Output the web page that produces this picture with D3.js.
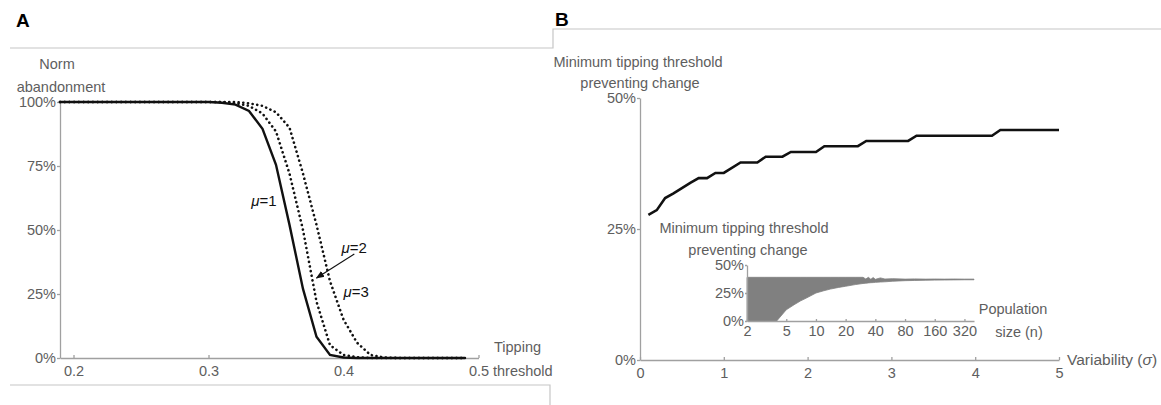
<!DOCTYPE html>
<html>

<head>
    <meta charset="utf-8">
    <script src="https://cdn.jsdelivr.net/npm/d3@7"></script>
    <title>Tipping threshold</title>

    <style>
        body {
            margin: 0;
            background-color: #fff;
        }

        svg text {
            font-family: "Liberation Sans", Arial, sans-serif;
        }

        .axis path,
        .axis line {
            stroke: #a0a0a0;
            stroke-width: 1.3;
        }

        .axis text {
            fill: #5e5e5e;
            font-size: 14.5px;
        }

        .lbl {
            fill: #5e5e5e;
            font-size: 14.5px;
        }
    </style>
</head>

<body>
<svg width="1161" height="405"></svg>

<script>
    // ---- panel A : norm abandonment vs tipping threshold
    const thresholds = [0.19, 0.20, 0.21, 0.22, 0.23, 0.24, 0.25, 0.26, 0.27, 0.28, 0.29, 0.30, 0.31, 0.32, 0.33,
        0.34, 0.35, 0.36, 0.37, 0.38, 0.39, 0.40, 0.41, 0.42, 0.43, 0.44, 0.45, 0.46, 0.47, 0.48, 0.49];
    const mu1 = [1, 1, 1, 1, 1, 1, 1, 1, 1, 1, 1, 1, 0.997, 0.99, 0.965,
        0.895, 0.755, 0.52, 0.27, 0.083, 0.012, 0.002, 0, 0, 0, 0, 0, 0, 0, 0, 0];
    const mu2 = [1, 1, 1, 1, 1, 1, 1, 1, 1, 1, 1, 1, 1, 0.995, 0.985,
        0.955, 0.885, 0.72, 0.5, 0.22, 0.05, 0.012, 0.003, 0, 0, 0, 0, 0, 0, 0, 0];
    const mu3 = [1, 1, 1, 1, 1, 1, 1, 1, 1, 1, 1, 1, 1, 1, 0.995,
        0.985, 0.96, 0.9, 0.72, 0.52, 0.3, 0.15, 0.06, 0.012, 0.002, 0, 0, 0, 0, 0, 0];
    const xTicksA = [0.2, 0.3, 0.4, 0.5];
    const yTicksA = [0, 0.25, 0.5, 0.75, 1];

    // ---- panel B : minimum threshold vs variability
    const sigma = [0.1, 0.2, 0.3, 0.4, 0.5, 0.6, 0.7, 0.8, 0.9, 1.0, 1.2, 1.4, 1.5, 1.7, 1.8, 2.1, 2.2, 2.6, 2.7,
        3.2, 3.3, 4.2, 4.3, 5.0];
    const minThreshold = [0.277, 0.286, 0.309, 0.318, 0.328, 0.338, 0.347, 0.347, 0.357, 0.357, 0.377, 0.377,
        0.388, 0.388, 0.397, 0.397, 0.408, 0.408, 0.418, 0.418, 0.428, 0.428, 0.439, 0.439];
    const xTicksB = [0, 1, 2, 3, 4, 5];
    const yTicksB = [0, 0.25, 0.5];

    // inset : range of minimum threshold vs population size
    const popSize = [2, 3, 4, 5, 6, 7, 8, 10, 12, 14, 17, 20, 25, 30, 32, 34, 36, 38, 40, 45, 50, 60, 80, 100,
        130, 160, 200, 250, 320, 400];
    const insetLow = [0, 0, 0, 0.1, 0.145, 0.18, 0.205, 0.25, 0.27, 0.285, 0.3, 0.31, 0.325, 0.335, 0.337, 0.34,
        0.342, 0.343, 0.345, 0.348, 0.35, 0.355, 0.36, 0.362, 0.364, 0.365, 0.366, 0.367, 0.368, 0.368];
    const insetHigh = [0.39, 0.39, 0.39, 0.39, 0.39, 0.39, 0.39, 0.39, 0.39, 0.39, 0.39, 0.39, 0.39, 0.39, 0.375,
        0.39, 0.372, 0.388, 0.372, 0.385, 0.375, 0.378, 0.374, 0.376, 0.374, 0.375, 0.374, 0.375, 0.374, 0.374];
    const xTicksInset = [2, 5, 10, 20, 40, 80, 160, 320];
    const yTicksInset = [0, 0.25, 0.5];

    const svg = d3.select("svg");
    const pct = d3.format(".0%");

    // frame lines round the two panels
    svg.append("path")
        .attr("d", "M10,48H553V29H1161M10,385H550V405")
        .attr("fill", "none")
        .attr("stroke", "#c6c6c6")
        .attr("stroke-width", 1.2);

    svg.append("text").attr("x", 16).attr("y", 27).text("A")
        .style("font-weight", "bold").style("font-size", "19px");
    svg.append("text").attr("x", 555).attr("y", 26).text("B")
        .style("font-weight", "bold").style("font-size", "19px");

    // ================= panel A
    const xA = d3.scaleLinear().domain([0.19, 0.5]).range([60, 478.5]);
    const yA = d3.scaleLinear().domain([0, 1]).range([358, 102]);

    svg.append("g").attr("class", "axis")
        .attr("transform", "translate(0," + yA(0) + ")")
        .call(d3.axisBottom(xA).tickValues(xTicksA).tickFormat(d3.format(".1f"))
            .tickSize(-3).tickSizeOuter(0).tickPadding(8));

    svg.append("g").attr("class", "axis")
        .attr("transform", "translate(" + xA(0.19) + ",0)")
        .call(d3.axisLeft(yA).tickValues(yTicksA).tickFormat(pct)
            .tickSize(3).tickSizeOuter(0).tickPadding(1));

    const lineA = d3.line()
        .x((d, i) => xA(thresholds[i]))
        .y(d => yA(d));

    [mu1, mu2, mu3].forEach((s, k) => {
        svg.append("path")
            .attr("d", lineA(s))
            .attr("fill", "none")
            .attr("stroke", "#111")
            .attr("stroke-width", k == 0 ? 2.4 : 2.6)
            .attr("stroke-linecap", "round")
            .attr("stroke-dasharray", k == 0 ? null : "0.1,4.6");
    });

    svg.append("text").attr("class", "lbl").attr("x", 57).attr("y", 69)
        .attr("text-anchor", "middle").text("Norm");
    svg.append("text").attr("class", "lbl").attr("x", 61).attr("y", 92)
        .attr("text-anchor", "middle").text("abandonment");
    svg.append("text").attr("class", "lbl").attr("x", 494).attr("y", 352).text("Tipping");
    svg.append("text").attr("class", "lbl").attr("x", 493).attr("y", 376).text("threshold");

    // mu labels
    function muLabel(x, y, n, anchor) {
        const t = svg.append("text")
            .attr("x", x).attr("y", y)
            .attr("text-anchor", anchor)
            .style("font-size", "15px")
            .style("fill", "#111");
        t.append("tspan").style("font-style", "italic").text("\u03bc");
        t.append("tspan").text("=" + n);
    }
    muLabel(xA(0.3505), yA(0.594), 1, "end");
    muLabel(xA(0.3985), yA(0.41), 2, "start");
    muLabel(xA(0.4), yA(0.238), 3, "start");

    svg.append("defs").append("marker")
        .attr("id", "arrow")
        .attr("viewBox", "0 0 10 10")
        .attr("refX", 9).attr("refY", 5)
        .attr("markerWidth", 7).attr("markerHeight", 7)
        .attr("orient", "auto")
        .append("path").attr("d", "M0,1L10,5L0,9z").attr("fill", "#111");

    svg.append("line")
        .attr("x1", xA(0.408)).attr("y1", yA(0.406))
        .attr("x2", xA(0.38)).attr("y2", yA(0.3125))
        .attr("stroke", "#111").attr("stroke-width", 1.2)
        .attr("marker-end", "url(#arrow)");

    // ================= panel B
    const xB = d3.scaleLinear().domain([0, 5]).range([640, 1059]);
    const yB = d3.scaleLinear().domain([0, 0.5]).range([360, 98]);

    svg.append("g").attr("class", "axis")
        .attr("transform", "translate(0," + yB(0) + ")")
        .call(d3.axisBottom(xB).tickValues(xTicksB).tickFormat(d3.format("d"))
            .tickSize(-3).tickSizeOuter(0).tickPadding(8));

    svg.append("g").attr("class", "axis")
        .attr("transform", "translate(" + xB(0) + ",0)")
        .call(d3.axisLeft(yB).tickValues(yTicksB).tickFormat(pct)
            .tickSize(3).tickSizeOuter(0).tickPadding(1));

    svg.append("path")
        .attr("d", d3.line().x((d, i) => xB(sigma[i])).y(d => yB(d))(minThreshold))
        .attr("fill", "none")
        .attr("stroke", "#111")
        .attr("stroke-width", 2.6);

    svg.append("text").attr("class", "lbl").attr("x", 638).attr("y", 67)
        .attr("text-anchor", "middle").text("Minimum tipping threshold");
    svg.append("text").attr("class", "lbl").attr("x", 640).attr("y", 88)
        .attr("text-anchor", "middle").text("preventing change");

    const varLbl = svg.append("text").attr("class", "lbl").attr("x", 1067).attr("y", 365)
        .style("font-size", "15.5px");
    varLbl.append("tspan").text("Variability (");
    varLbl.append("tspan").style("font-style", "italic").text("\u03c3");
    varLbl.append("tspan").text(")");

    // ---- inset
    const xI = d3.scaleLog().base(2).domain([2, 400]).range([747, 974]);
    const yI = d3.scaleLinear().domain([0, 0.5]).range([321, 265]);

    svg.append("path")
        .attr("d", d3.area()
            .x((d, i) => xI(popSize[i]))
            .y0((d, i) => yI(insetLow[i]))
            .y1(d => yI(d))(insetHigh))
        .attr("fill", "#808080")
        .attr("stroke", "#808080")
        .attr("stroke-width", 0.8);

    svg.append("g").attr("class", "axis")
        .attr("transform", "translate(0," + yI(0) + ")")
        .call(d3.axisBottom(xI).tickValues(xTicksInset).tickFormat(d3.format("d"))
            .tickSize(-2).tickSizeOuter(0).tickPadding(5));

    svg.append("g").attr("class", "axis")
        .attr("transform", "translate(" + xI(2) + ",0)")
        .call(d3.axisLeft(yI).tickValues(yTicksInset).tickFormat(pct)
            .tickSize(2).tickSizeOuter(0).tickPadding(1));

    svg.append("text").attr("class", "lbl").attr("x", 744).attr("y", 233)
        .attr("text-anchor", "middle").text("Minimum tipping threshold");
    svg.append("text").attr("class", "lbl").attr("x", 748).attr("y", 255)
        .attr("text-anchor", "middle").text("preventing change");
    svg.append("text").attr("class", "lbl").attr("x", 1013).attr("y", 314)
        .attr("text-anchor", "middle").text("Population");
    svg.append("text").attr("class", "lbl").attr("x", 1019).attr("y", 337)
        .attr("text-anchor", "middle").text("size (n)");
</script>
</body>

</html>
